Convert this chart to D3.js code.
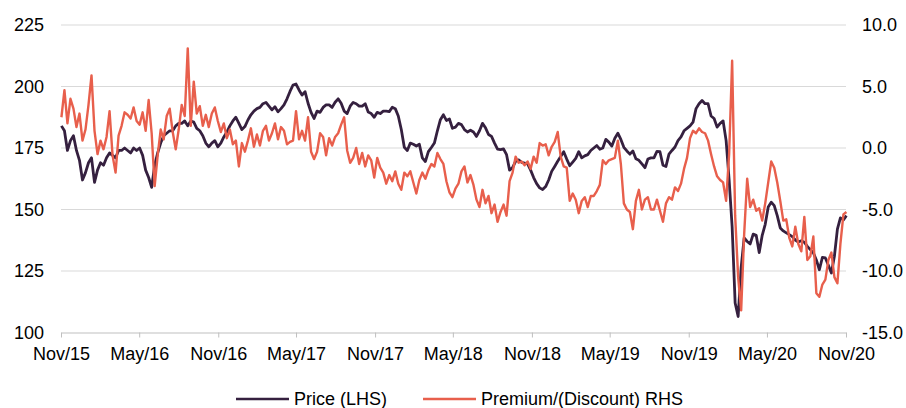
<!DOCTYPE html>
<html>
<head>
<meta charset="utf-8">
<script src="https://cdn.jsdelivr.net/npm/d3@7"></script>
<style>
  body { margin: 0; background: #fff; }
  svg { display: block; font-family: "Liberation Sans", Arial, sans-serif; }
</style>
</head>
<body>
<div id="chart"></div>
<script>
// weekly observations, first one on startDate
var startDate = "2015-11-02";

var priceLHS = [
  184, 182, 174, 178, 180, 174, 170, 162, 165, 169,
  171, 161, 166, 169, 168, 171, 173, 172, 171, 174,
  174, 175, 174, 173, 175, 174, 175, 172, 166, 163,
  159, 168, 173, 177, 180, 181, 182, 182, 184, 185,
  185, 186, 184, 186,
  185.5, 183, 182, 180, 177, 175.5,
  177, 178, 175.5, 177, 179.5, 181.5, 184, 186, 187.5, 185,
  182.5, 183.7, 186.4, 188.5, 190, 191, 191.5, 193, 193.5, 192,
  190.5, 191.8, 189.7, 191, 192.5, 195, 198, 200.6, 201, 198.6,
  196.5, 197.9, 193.2, 189.5, 187, 190,
  189.5, 191.5, 192.5, 192.5,
  191.5, 193.6, 195, 193.2, 190, 189, 192, 193.5, 193, 192,
  192, 193, 189.6, 189, 187.5, 189.5, 189, 190, 190, 189.8,
  191.6, 191, 188, 182.5, 175.3, 174, 177, 176.5, 175.8, 176.5,
  171, 169.5, 173.5, 175.2, 177, 182, 186.5, 188.5, 186.2, 186.8,
  183, 183.5, 185, 184.5, 182.5, 181.5, 182.2, 181.5, 179.7, 182,
  185, 183.2, 180.5, 179.7, 177, 174.5, 174.3, 174.6, 172.3, 166,
  167, 169.6, 170.2, 169.2, 168.9, 168.5, 166, 163, 160.5, 158.8,
  158.1, 159.3, 162, 165.5, 167.5, 169.6, 171.5, 173.5, 170.5, 167.8,
  169.3, 170.8, 173.5,
  171, 171.8, 172.3, 174, 175, 176, 174.5,
  175, 178.5, 177.4, 175.8, 179, 181, 178.5, 175.3, 173.8, 172.5,
  173.8, 170.6, 170, 168.5, 167, 170.5, 171, 171, 173.6, 173.5,
  168, 167.5, 172.5, 174, 175.4, 178, 179.5, 182, 183, 184,
  185.5, 191, 193, 194.3, 193, 193,
  188, 187, 183.5, 185,
  186, 178, 162, 143, 112, 106.5, 126.5, 138.5, 137, 136,
  140, 139.5, 132.5, 139.5, 144, 151, 153, 151.6, 147.5, 142.5,
  141.3, 140.5, 139.8, 139, 137.6, 136.8, 137.3, 136.7, 135, 133.7,
  132.4, 129.5, 125.5, 130.5, 130.3, 127.3, 124.2, 131, 142, 146.6,
  145.8, 147.5
];

var premiumRHS = [
  2.5, 4.7, 2.0, 4.0, 3.2, 1.7, 2.8, 0.6, 1.5, 3.5,
  5.9, 1.4, -0.5, 0.6, -0.1, 0.9, 3.0, -0.6, -2.0, 1.0,
  1.8, 2.9, 2.7, 2.4, 3.3, 2.2, 1.9, 2.9, 1.4, 3.9,
  1.2, -3.1, -0.6, 1.5, 0.7, 2.6, 3.2, 1.3, -0.1, 1.5,
  3.5, 2.6, 8.1, 1.8,
  5.4, 2.8, 3.4, 1.8, 2.7, 1.7,
  2.8, 3.3, 2.2, 1.3, 2.0, 0.8, 1.5, 0.3, 0.6, -1.5,
  0.4, -0.3, 0.6, 1.6, 0.1, 1.1, 0.2, 1.4, 1.8, 0.6,
  1.2, 2.0, 0.7, 1.7, 1.4, 0.3, 0.5, 0.6, 3.0, 0.7,
  1.4, 0.6, 2.5, -0.3, -0.9, -0.3,
  1.2, 0.9, -0.6, 0.8,
  0.2, 0.9, 1.2, 1.9, 2.5, -0.2, -1.2, -0.8, 0.0, -1.3,
  -0.4, -1.5, -0.6, -1.0, -2.4, -0.8, -1.6, -2.0, -2.9, -2.2,
  -2.7, -1.9, -2.9, -3.4, -2.0, -2.3, -1.9, -2.8, -3.7, -2.6,
  -2.0, -2.5, -1.8, -1.3, -1.5, -0.4, -0.9, -1.3, -2.7, -3.6,
  -4.0, -3.3, -2.9, -1.9, -1.5, -2.8, -2.2, -3.0, -4.2, -4.8,
  -3.4, -4.5, -3.9, -5.3, -4.6, -6.0, -5.2, -4.6, -5.5, -2.7,
  -2.0, -0.7, -1.2, -1.1, -1.4, -1.1, -1.7, -0.7, -1.2, 0.4,
  0.2, 0.3, -0.6, 0.1, 0.5, 1.3, -0.7, -1.5, -1.6, -4.3,
  -3.7, -4.2, -5.3,
  -4.3, -4.0, -4.8, -3.9, -3.9, -3.5, -3.0,
  -1.0, -1.3, -1.0, -0.9, -0.8, 0.6, -1.3, -4.5, -5.0, -5.2,
  -6.6, -4.3, -3.4, -5.0, -4.2, -4.0, -5.0, -5.0, -4.2, -5.1,
  -6.0, -4.5, -4.0, -4.2, -3.2, -3.5, -2.9, -1.7, -0.8, 0.8,
  1.4, 1.2, 1.6, 1.3, 1.2, 0.6,
  -0.5, -1.5, -2.3, -2.6,
  -2.8, -4.3, -0.5, 7.1, -5.5, -10.5, -13.2, -7.0, -2.5, -4.8,
  -4.2, -5.1, -4.9, -5.9, -4.5, -2.8, -1.1, -1.6, -2.8, -4.3,
  -5.9, -5.8, -7.3, -8.0, -6.4, -7.8, -8.4, -5.6, -9.1, -8.8,
  -7.2, -11.8, -12.1, -11.1, -10.7, -9.1, -8.5, -10.5, -11.0, -7.8,
  -5.4, -5.2
];

var leftTicks = [100, 125, 150, 175, 200, 225];
var rightTicks = [-15, -10, -5, 0, 5, 10];
var monthTicks = ["2015-11", "2016-05", "2016-11", "2017-05", "2017-11", "2018-05",
                  "2018-11", "2019-05", "2019-11", "2020-05", "2020-11"];
var seriesNames = ["Price (LHS)", "Premium/(Discount) RHS"];
var seriesColors = ["#35203f", "#e85f4c"];

var chart = {};

/**
 * Builds [{date, price, premium}] from the weekly arrays
 */
chart.rows = function(){
  var start = d3.timeParse("%Y-%m-%d")(startDate);
  return priceLHS.map(function(p, i){
    return { date: d3.timeDay.offset(start, 7 * i), price: p, premium: premiumRHS[i] };
  });
};

chart.draw = function(){
  var W = 906, H = 408;
  var margin = {top: 25, right: 60, bottom: 75.5, left: 61};
  var w = W - margin.left - margin.right;
  var h = H - margin.top - margin.bottom;
  var data = chart.rows();
  var parseMonth = d3.timeParse("%Y-%m");
  var tickDates = monthTicks.map(parseMonth);

  var x = d3.scaleTime()
        .domain([tickDates[0], tickDates[tickDates.length - 1]])
        .range([0, w]);
  var yL = d3.scaleLinear().domain([100, 225]).range([h, 0]);
  var yR = d3.scaleLinear().domain([-15, 10]).range([h, 0]);

  var svg = d3.select('#chart').append('svg')
        .attr('width', W)
        .attr('height', H)
        .append('g')
        .attr('transform', 'translate(' + margin.left + ',' + margin.top + ')');

  // horizontal gridlines
  svg.selectAll('.grid')
    .data(leftTicks.slice(1))
    .enter().append('line')
    .attr('class', 'grid')
    .attr('x1', 0).attr('x2', w)
    .attr('y1', function(d){ return yL(d); })
    .attr('y2', function(d){ return yL(d); })
    .attr('stroke', '#d9d9d9')
    .attr('stroke-width', 1);

  // x axis
  var xAxis = svg.append('g')
    .attr('transform', 'translate(0,' + h + ')')
    .call(d3.axisBottom(x).tickValues(tickDates)
          .tickFormat(d3.timeFormat('%b/%y'))
          .tickSize(5).tickSizeOuter(0).tickPadding(10));
  xAxis.select('.domain').attr('stroke', '#bfbfbf');
  xAxis.selectAll('.tick line').attr('stroke', '#bfbfbf');

  // left axis
  var lAxis = svg.append('g')
    .call(d3.axisLeft(yL).tickValues(leftTicks).tickSize(0).tickPadding(17));
  lAxis.select('.domain').remove();

  // right axis
  var rAxis = svg.append('g')
    .attr('transform', 'translate(' + w + ',0)')
    .call(d3.axisRight(yR).tickValues(rightTicks).tickSize(0).tickPadding(16)
          .tickFormat(function(d){ return d.toFixed(1); }));
  rAxis.select('.domain').remove();

  svg.selectAll('.tick text')
    .attr('font-size', '18px')
    .attr('font-family', '"Liberation Sans", Arial, sans-serif')
    .attr('fill', '#000');

  var priceLine = d3.line()
        .x(function(d){ return x(d.date); })
        .y(function(d){ return yL(d.price); });
  var premiumLine = d3.line()
        .x(function(d){ return x(d.date); })
        .y(function(d){ return yR(d.premium); });

  svg.append('path')
    .datum(data)
    .attr('d', priceLine)
    .attr('fill', 'none')
    .attr('stroke', seriesColors[0])
    .attr('stroke-width', 2.8)
    .attr('stroke-linejoin', 'round');

  svg.append('path')
    .datum(data)
    .attr('d', premiumLine)
    .attr('fill', 'none')
    .attr('stroke', seriesColors[1])
    .attr('stroke-width', 2.4)
    .attr('stroke-linejoin', 'round');

  // legend
  var legend = d3.select('#chart svg').append('g')
        .attr('transform', 'translate(236,399)');
  var offset = 0;
  seriesNames.forEach(function(name, i){
    var item = legend.append('g').attr('transform', 'translate(' + offset + ',0)');
    item.append('line')
      .attr('x1', 0).attr('x2', 53)
      .attr('stroke', seriesColors[i])
      .attr('stroke-width', 2.5);
    var t = item.append('text')
      .attr('x', 58)
      .attr('dy', '0.35em')
      .attr('font-size', '18px')
      .attr('fill', '#000')
      .text(name);
    offset += 58 + t.node().getComputedTextLength() + 36;
  });
};

chart.draw();
</script>
</body>
</html>
